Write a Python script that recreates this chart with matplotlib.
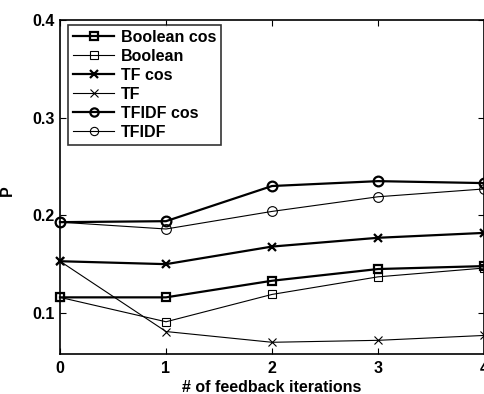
import numpy as np
import matplotlib
matplotlib.use('Agg')
import matplotlib.pyplot as plt

iterations = [0, 1, 2, 3, 4]
boolean_cos = [0.116, 0.116, 0.133, 0.145, 0.148]
boolean = [0.116, 0.091, 0.119, 0.137, 0.146]
tf_cos = [0.153, 0.150, 0.168, 0.177, 0.182]
tf = [0.153, 0.081, 0.070, 0.072, 0.077]
tfidf_cos = [0.193, 0.194, 0.230, 0.235, 0.233]
tfidf = [0.193, 0.186, 0.204, 0.219, 0.227]

plt.rcParams['font.family'] = ['Liberation Sans', 'DejaVu Sans']
plt.rcParams['font.weight'] = 'bold'
fs = 11.5

fig = plt.figure(figsize=(4.84, 3.94), dpi=100)
ax = fig.add_axes([60/484, 40/394, 424/484, 334/394])

series = [
    (boolean_cos, 's', 1.6, 'Boolean cos'),
    (boolean, 's', 0.8, 'Boolean'),
    (tf_cos, 'x', 1.6, 'TF cos'),
    (tf, 'x', 0.8, 'TF'),
    (tfidf_cos, 'o', 1.6, 'TFIDF cos'),
    (tfidf, 'o', 0.8, 'TFIDF'),
]
for vals, mk, lw, lab in series:
    ms = 7 if mk == 'o' else 6
    ax.plot(iterations, vals, color='black', linewidth=lw, marker=mk,
            markersize=ms, markerfacecolor='none', markeredgecolor='black',
            markeredgewidth=lw, label=lab, clip_on=False)

ax.set_xlim(0, 4)
ax.set_ylim(0.058, 0.4)
ax.set_xticks(iterations)
ax.set_yticks([0.1, 0.2, 0.3, 0.4])
ax.set_yticklabels(['0.1', '0.2', '0.3', '0.4'])
ax.tick_params(direction='in', top=True, right=True, length=4, width=0.8,
               labelsize=fs)
ax.tick_params(axis='x', pad=5)
ax.tick_params(axis='y', pad=4)
for lbl in ax.get_xticklabels() + ax.get_yticklabels():
    lbl.set_fontweight('bold')
for sp in ax.spines.values():
    sp.set_linewidth(1.2)

ax.set_xlabel('# of feedback iterations', fontsize=fs, fontweight='bold', labelpad=3)
ax.set_ylabel('P', fontsize=fs, fontweight='bold')
ax.yaxis.set_label_coords(-0.106, 0.49)

leg = ax.legend(loc='upper left', bbox_to_anchor=(8/424, 1 - 5/334), fontsize=fs,
                frameon=True, fancybox=False, edgecolor='black',
                handlelength=2.6, borderpad=0.3, labelspacing=0.25,
                handletextpad=0.4, borderaxespad=0, markerscale=0.85)
leg.get_frame().set_linewidth(1.2)
for t in leg.get_texts():
    t.set_fontweight('bold')

fig.savefig('out.png', dpi=100)
